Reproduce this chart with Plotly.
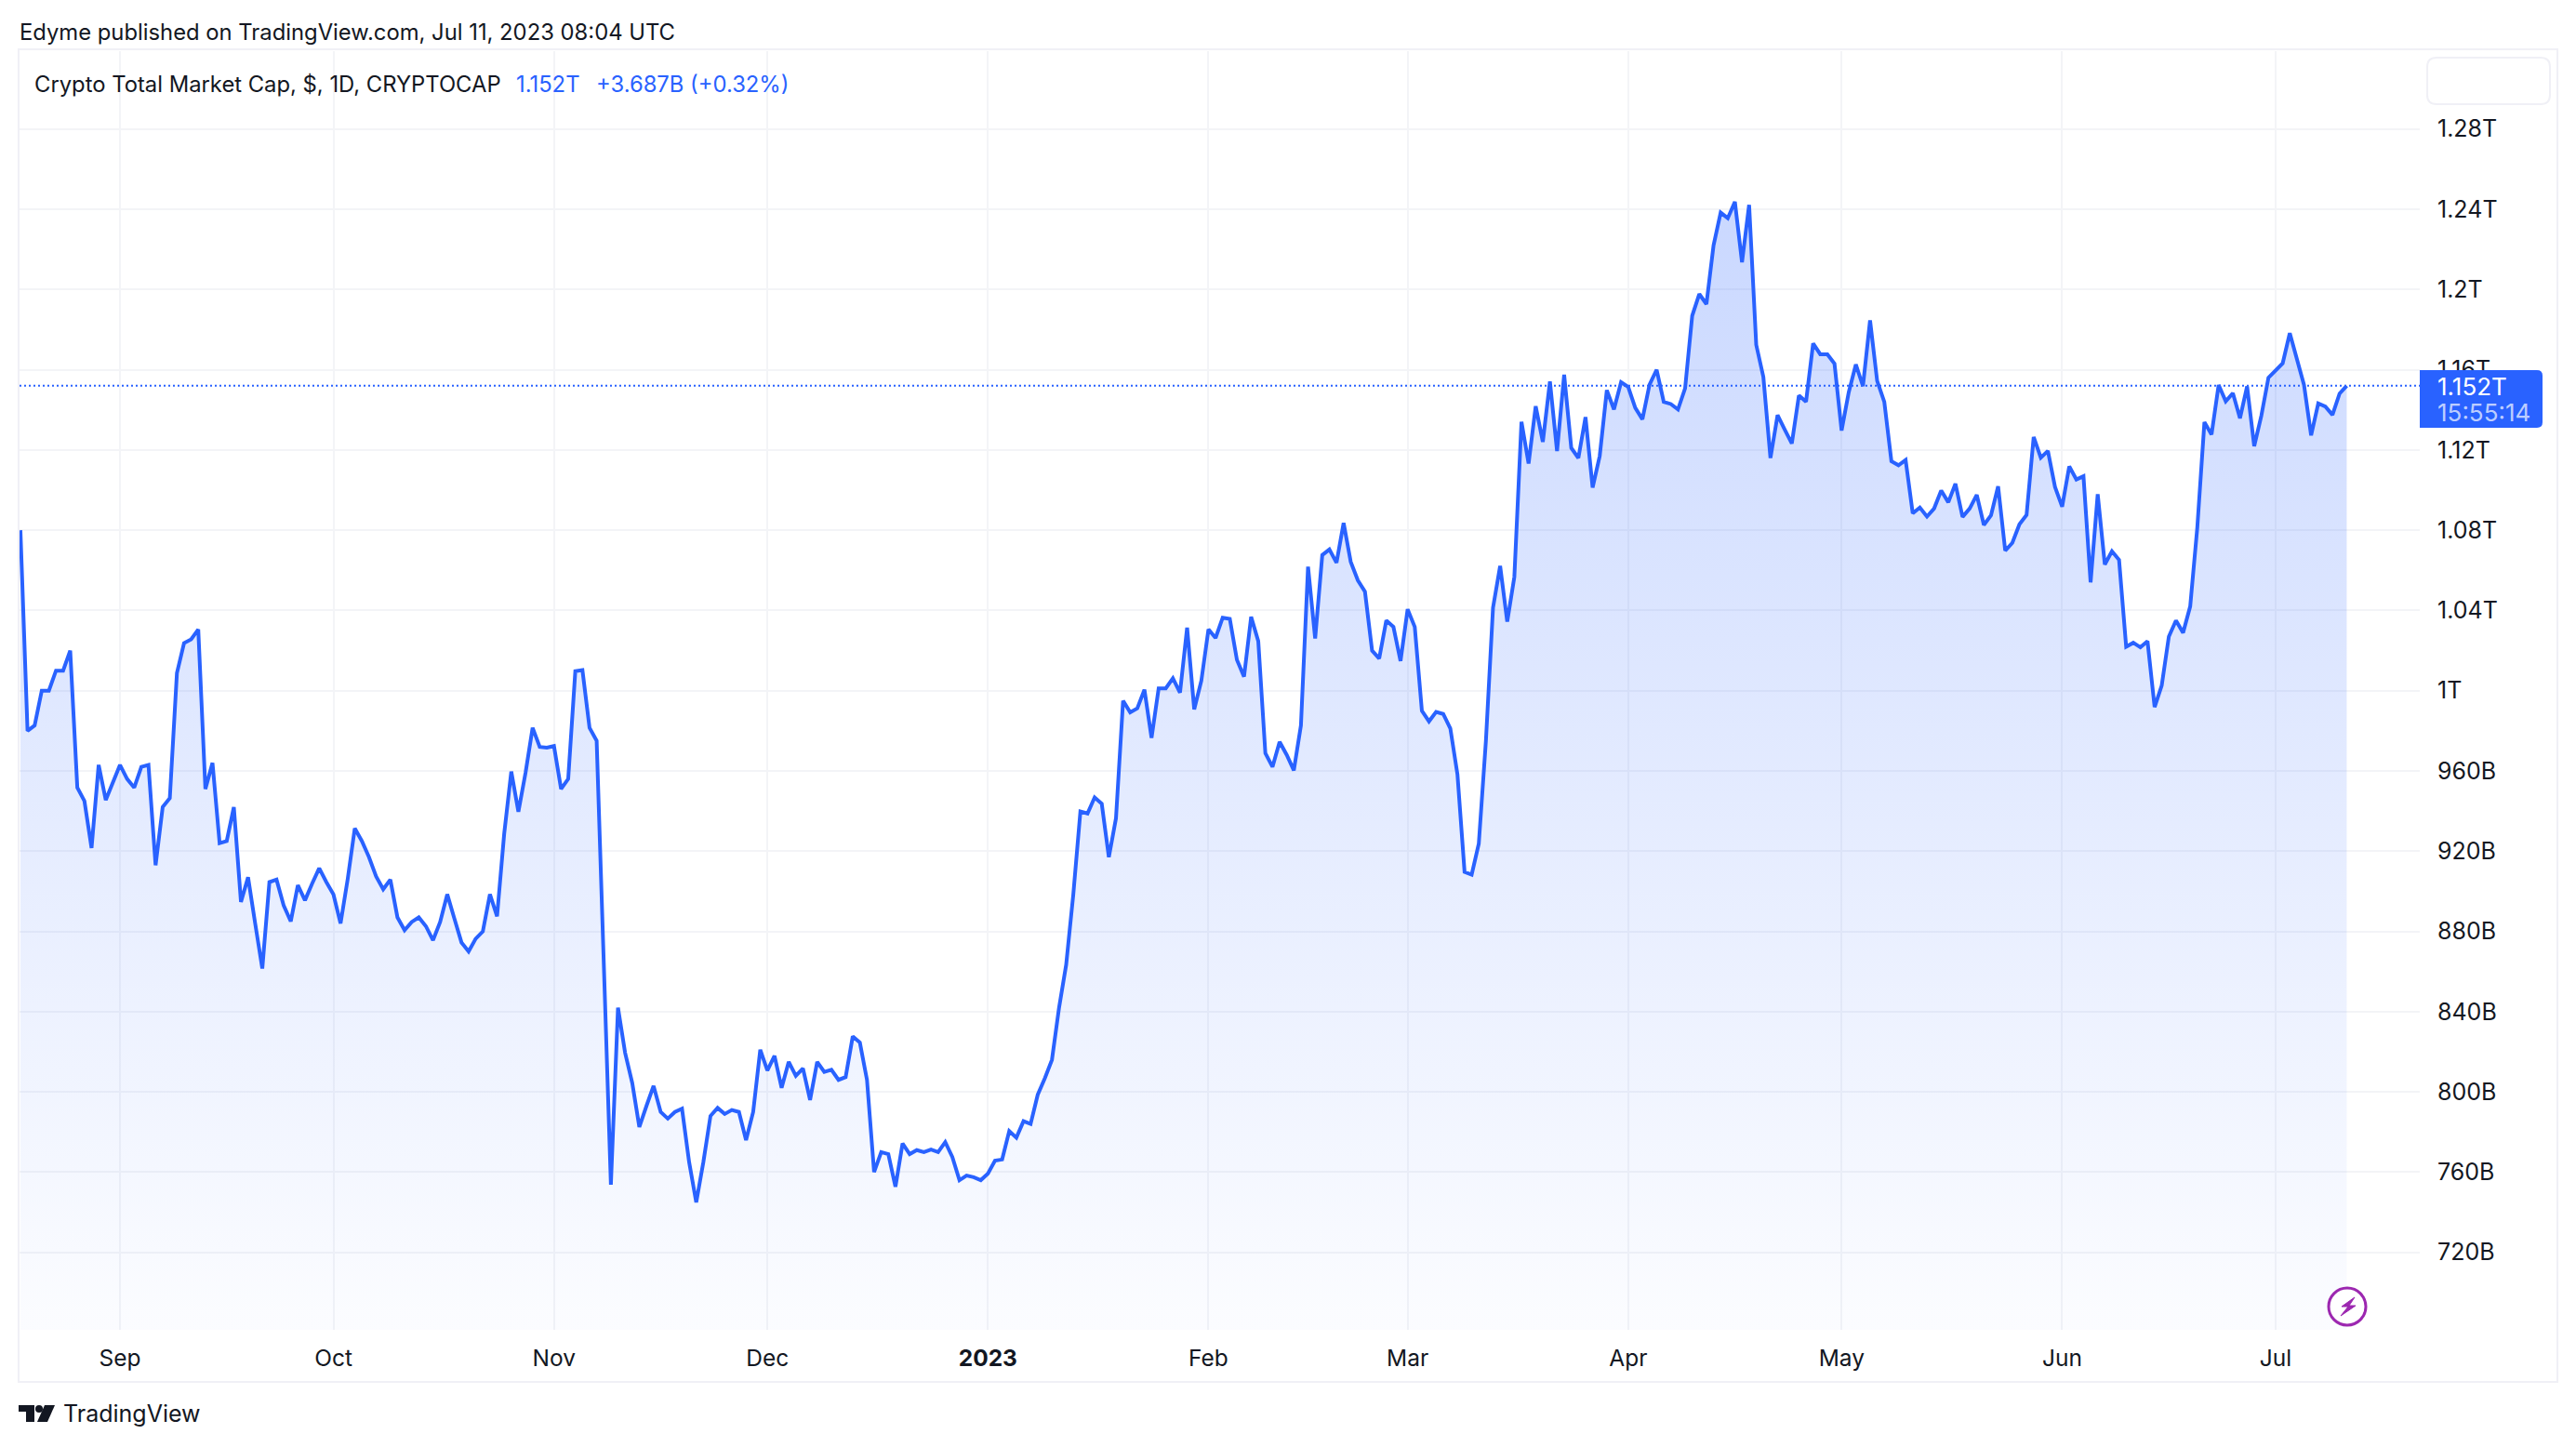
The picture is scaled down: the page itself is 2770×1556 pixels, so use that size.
import pandas as pd
import plotly.graph_objects as go

market_cap_2022 = [
    1080,980,982.7,1000,1000,1010,1010,1020,951.7,945,
    921.6,963,945.5,953.7,963,956,951.7,962,963,913,
    942,946.4,1008.8,1023.7,1025.6,1030.5,951,964,924,925,
    942,894.7,907,884,861.5,904.6,905.8,893,885,903,
    895.5,903.8,911.5,904.6,898.5,884,906,931.4,925,917,
    907.4,901,905.8,887,880.6,884.7,887,882.6,875.6,884.7,
    898.5,886.4,874.5,870,876.4,880,898.5,887.5,928.6,959.7,
    939.7,959,981.5,972,971.6,972.4,951,956,1009.7,1010.3,
    981.5,975,870,753.8,842,819.5,804.5,782.5,793,803,
    790,786.7,790,791.6,765,745,765,788,792,789,
    791,790,776,790,821,810.7,818,802,815,808,
    811.7,796,815,810,811,806,807.4,827.7,824.6,806,
    760,770,769,752.7,774.3,769,771,770,771.3,770,
    775,767.5,756,758.3,757.5,756,
]
market_cap_2023 = [
    759.3,765.7,766.3,780.5,
    777.2,785.4,784,798.6,806.8,816,842,863.4,898.4,939.8,
    938.8,946.8,943.7,917,936.4,995,989.2,991.2,1000.5,976.5,
    1001.2,1001.2,1006.2,999,1031.4,990.7,1005,1030.6,1026.3,1036.4,
    1035.8,1015.4,1007,1036.8,1024.7,968.8,962,974.5,968,960.3,
    982.7,1061.8,1026,1067.6,1070.4,1063.8,1083.6,1064.2,1055,1049.4,
    1020,1016,1035,1031.8,1014.8,1040.6,1031.8,990,984.7,989.4,
    988.4,981.2,958.3,909.7,908.3,923.7,975,1041.4,1062.2,1034.4,
    1056.8,1134,1113.2,1141.8,1124,1154.1,1119.4,1157.5,1121,1116,
    1136.4,1101.2,1117,1149.8,1140.2,1153.8,1151.4,1141,1135.3,1152.6,
    1160,1144,1142.9,1140.2,1150.7,1186.9,1197.7,1192.7,1222,1238.3,
    1235.5,1243.7,1213.6,1242.2,1172.4,1156.4,1116,1137.4,1130.2,1123.2,
    1147.2,1144,1173.1,1167.7,1167.7,1163,1129.7,1148.7,1162.6,1151.8,
    1184.6,1154.4,1144,1114.4,1112.4,1115,1088.4,1091.3,1086.8,1090.8,
    1099.8,1093.9,1103.2,1086.6,1090.8,1097.6,1082.6,1087.4,1101.9,1069.8,
    1073.7,1083,1087.6,1126.5,1116.1,1119.5,1101.5,1091.7,1111.8,1105.3,
    1106.9,1054,1097.9,1062.9,1069.5,1065.2,1021.9,1023.9,1021.6,1024.7,
    991.8,1002.6,1027,1035,1028.9,1042,1081.4,1133.9,1127.7,1152.4,
    1144.2,1148.3,1135.8,1151.7,1121.9,1137,1156,1159.8,1163.2,1178.2,
    1165.6,1152.4,1127.3,1143.2,1141.6,1137.5,1148.1,1152,
]
y_tick_values = [720,760,800,840,880,920,960,1000,1040,1080,1120,1160,1200,1240,1280]
y_tick_labels = ["720B","760B","800B","840B","880B","920B","960B","1T","1.04T","1.08T","1.12T","1.16T","1.2T","1.24T","1.28T"]
x_tick_dates = ["2022-09-01","2022-10-01","2022-11-01","2022-12-01","2023-01-01","2023-02-01","2023-03-01","2023-04-01","2023-05-01","2023-06-01","2023-07-01"]
x_tick_labels = ["Sep","Oct","Nov","Dec","<b>2023</b>","Feb","Mar","Apr","May","Jun","Jul"]
last_value = 1152

values = market_cap_2022 + market_cap_2023
dates = pd.date_range("2022-08-18", periods=len(values), freq="D")
assert len(values) == 328, len(values)

W, H = 2770, 1556
L, R, T, B = 21, 2602, 55, 1430
FONT = "Inter"
INK = "#131722"
BLUE = "#2962FF"
GRID = "#F3F4F7"
FRAME = "#F0F0F6"

def px(x):
    return (x - L) / (R - L)
def py(y):
    return (B - y) / (B - T)
def path(points, close=True):
    s = "M " + " L ".join(f"{px(x):.6f},{py(y):.6f}" for x, y in points)
    return s + (" Z" if close else "")
def rrect(x0, y0, x1, y1, r, corners=(1, 1, 1, 1)):
    rx, ry = r / (R - L), r / (B - T)
    a, b, c, d = px(x0), py(y0), px(x1), py(y1)
    tl, tr, br, bl = corners
    s = f"M {a+rx*tl:.6f},{b:.6f} L {c-rx*tr:.6f},{b:.6f} "
    s += f"Q {c:.6f},{b:.6f} {c:.6f},{b-ry*tr:.6f} L {c:.6f},{d+ry*br:.6f} "
    s += f"Q {c:.6f},{d:.6f} {c-rx*br:.6f},{d:.6f} L {a+rx*bl:.6f},{d:.6f} "
    s += f"Q {a:.6f},{d:.6f} {a:.6f},{d+ry*bl:.6f} L {a:.6f},{b-ry*tl:.6f} "
    s += f"Q {a:.6f},{b:.6f} {a+rx*tl:.6f},{b:.6f} Z"
    return s

fig = go.Figure(go.Scatter(
    x=dates, y=values, mode="lines",
    line=dict(color=BLUE, width=4, shape="linear"),
    fill="tozeroy",
    fillgradient=dict(
        type="vertical", start=690, stop=1245,
        colorscale=[[0, "rgba(41,98,255,0.02)"], [1, "rgba(41,98,255,0.25)"]],
    ),
    hoverinfo="skip", showlegend=False,
))

shapes = [
    dict(type="rect", xref="paper", yref="paper", layer="below",
         x0=px(20), x1=px(2750), y0=py(1486), y1=py(53),
         line=dict(color=FRAME, width=2), fillcolor="rgba(0,0,0,0)"),
    dict(type="line", xref="paper", yref="y", x0=0, x1=1, y0=last_value, y1=last_value,
         line=dict(color=BLUE, width=2, dash="2px,3px")),
    dict(type="path", xref="paper", yref="paper", path=rrect(2602, 398, 2734, 460, 6, (0, 1, 1, 0)),
         fillcolor=BLUE, line=dict(width=0)),
    dict(type="path", xref="paper", yref="paper", path=rrect(2610, 62, 2742, 112, 10),
         fillcolor="rgba(255,255,255,0)", line=dict(color=FRAME, width=2)),
    # lightning marker
    dict(type="circle", xref="paper", yref="paper",
         x0=px(2504), x1=px(2544), y0=py(1425), y1=py(1385),
         fillcolor="white", line=dict(color="#9C27B0", width=3)),
    dict(type="path", xref="paper", yref="paper",
         path=path([(2532, 1395), (2518, 1405), (2525, 1405), (2517, 1415), (2533, 1404), (2526, 1404)]),
         fillcolor="#9C27B0", line=dict(color="#9C27B0", width=1)),
    # TradingView logo
    dict(type="path", xref="paper", yref="paper",
         path=path([(20, 1511), (37, 1511), (37, 1529), (28, 1529), (28, 1518), (20, 1518)]),
         fillcolor=INK, line=dict(width=0)),
    dict(type="circle", xref="paper", yref="paper",
         x0=px(38), x1=px(46), y0=py(1519), y1=py(1511), fillcolor=INK, line=dict(width=0)),
    dict(type="path", xref="paper", yref="paper",
         path=path([(48, 1511), (59, 1511), (51, 1529), (40, 1529)]),
         fillcolor=INK, line=dict(width=0)),
]

def text(x, y, s, size=23.8, color=INK, anchor="left"):
    return dict(xref="paper", yref="paper", x=px(x), y=py(y), text=s, showarrow=False,
                xanchor=anchor, yanchor="middle", align="left",
                font=dict(family=FONT, size=size, color=color))

annotations = [
    text(19, 35, "Edyme published on TradingView.com, Jul 11, 2023 08:04 UTC"),
    text(35, 90, "Crypto Total Market Cap, $, 1D, CRYPTOCAP"),
    text(553, 90, "1.152T", color=BLUE),
    text(639, 90, "+3.687B (+0.32%)", color=BLUE),
    text(2619, 415, "1.152T", size=26, color="white"),
    text(2619, 443, "15:55:14", size=26, color="rgba(255,255,255,0.7)"),
    text(66, 1520, "TradingView", size=25),
]

fig.update_layout(
    width=W, height=H, autosize=False,
    margin=dict(l=L, r=W - R, t=T, b=H - B, pad=0),
    paper_bgcolor="white", plot_bgcolor="white",
    font=dict(family=FONT, size=25, color=INK),
    shapes=shapes, annotations=annotations, showlegend=False,
    xaxis=dict(
        type="date",
        range=[pd.Timestamp("2022-08-17 21:00"), pd.Timestamp("2023-07-21 06:30")],
        tickmode="array", tickvals=x_tick_dates, ticktext=x_tick_labels,
        showgrid=True, gridcolor=GRID, gridwidth=2,
        showline=False, zeroline=False, ticks="", ticklabelstandoff=13,
        tickfont=dict(family=FONT, size=24.5, color=INK),
    ),
    yaxis=dict(
        range=[681.4, 1318.8], side="right",
        tickmode="array", tickvals=y_tick_values, ticktext=y_tick_labels,
        showgrid=True, gridcolor=GRID, gridwidth=2,
        showline=False, zeroline=False, ticks="", ticklabelstandoff=18,
        tickfont=dict(family=FONT, size=25, color=INK),
    ),
)

fig.write_html(
    "out.html",
    config=dict(displayModeBar=False, responsive=False),
    post_script="document.body.style.margin='0';document.body.style.overflow='hidden';",
)
